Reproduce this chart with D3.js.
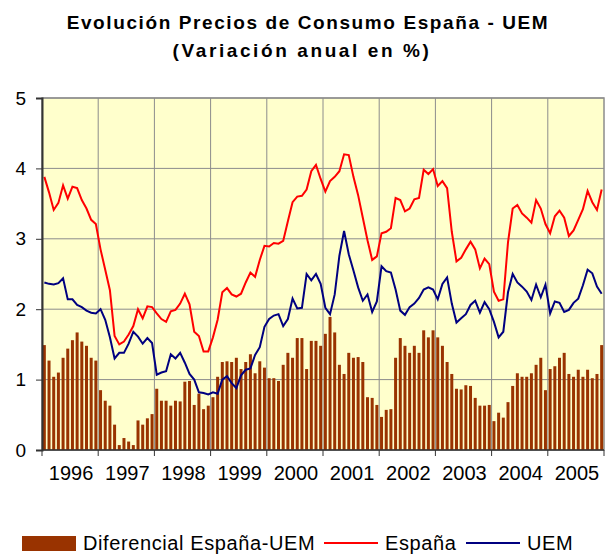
<!DOCTYPE html>
<html>
<head>
<meta charset="utf-8">
<script src="https://cdn.jsdelivr.net/npm/d3@7"></script>
<style>
  body { margin: 0; background: #fff; }
  text { font-family: "Liberation Sans", Arial, sans-serif; }
</style>
</head>
<body>
<div id="chart"></div>
<script>
// años del eje X
const years = [1996, 1997, 1998, 1999, 2000, 2001, 2002, 2003, 2004, 2005];

// Diferencial España-UEM (barras), mensual ene-1996 .. dic-2005
const diferencial = [
  1.49, 1.27, 1.04, 1.10, 1.31, 1.44, 1.56, 1.67, 1.54, 1.48, 1.31, 1.27,
  0.85, 0.70, 0.63, 0.36, 0.07, 0.17, 0.12, 0.07, 0.42, 0.36, 0.45, 0.51,
  0.87, 0.70, 0.70, 0.63, 0.70, 0.69, 0.97, 0.98, 0.64, 0.80, 0.58, 0.63,
  0.75, 1.04, 1.25, 1.26, 1.25, 1.31, 1.15, 1.25, 1.36, 1.09, 1.26, 1.17,
  1.02, 1.02, 0.98, 1.21, 1.38, 1.31, 1.59, 1.59, 1.15, 1.55, 1.55, 1.48,
  1.65, 1.89, 1.67, 1.21, 1.08, 1.38, 1.31, 1.32, 1.25, 0.75, 0.74, 0.64,
  0.47, 0.57, 0.58, 1.31, 1.59, 1.48, 1.38, 1.48, 1.38, 1.70, 1.60, 1.70,
  1.60, 1.48, 1.25, 1.08, 0.87, 0.86, 0.92, 0.91, 0.74, 0.63, 0.63, 0.64,
  0.41, 0.53, 0.46, 0.68, 0.91, 1.09, 1.04, 1.04, 1.09, 1.21, 1.31, 0.85,
  1.15, 1.19, 1.31, 1.38, 1.08, 1.04, 1.14, 1.04, 1.14, 1.02, 1.08, 1.49
];

// España
const espana = [
  3.88, 3.66, 3.41, 3.51, 3.76, 3.57, 3.74, 3.72, 3.55, 3.43, 3.27, 3.21,
  2.85, 2.56, 2.27, 1.62, 1.50, 1.54, 1.64, 1.76, 2.00, 1.87, 2.04, 2.03,
  1.94, 1.86, 1.82, 1.97, 1.99, 2.08, 2.22, 2.07, 1.68, 1.62, 1.40, 1.40,
  1.60, 1.85, 2.24, 2.30, 2.21, 2.18, 2.22, 2.38, 2.52, 2.46, 2.70, 2.90,
  2.89, 2.94, 2.93, 2.97, 3.25, 3.52, 3.60, 3.61, 3.70, 3.96, 4.05, 3.85,
  3.67, 3.82, 3.88, 3.96, 4.20, 4.19, 3.88, 3.62, 3.30, 2.98, 2.70, 2.75,
  3.08, 3.10, 3.15, 3.58, 3.55, 3.39, 3.43, 3.56, 3.58, 3.98, 3.92, 3.99,
  3.75, 3.82, 3.72, 3.10, 2.68, 2.73, 2.85, 2.96, 2.85, 2.58, 2.72, 2.64,
  2.25, 2.12, 2.14, 2.95, 3.43, 3.48, 3.36, 3.30, 3.23, 3.55, 3.43, 3.21,
  3.08, 3.32, 3.40, 3.30, 3.04, 3.12, 3.27, 3.42, 3.68, 3.52, 3.41, 3.70
];

// UEM
const uem = [
  2.38, 2.36, 2.35, 2.37, 2.44, 2.14, 2.14, 2.06, 2.03, 1.98, 1.95, 1.94,
  2.00, 1.85, 1.60, 1.30, 1.38, 1.38, 1.51, 1.68, 1.61, 1.51, 1.59, 1.52,
  1.07, 1.10, 1.12, 1.36, 1.30, 1.38, 1.24, 1.08, 1.00, 0.82, 0.81, 0.79,
  0.82, 0.80, 1.00, 1.05, 0.95, 0.88, 1.06, 1.14, 1.16, 1.35, 1.46, 1.75,
  1.86, 1.91, 1.93, 1.76, 1.86, 2.15, 2.01, 2.02, 2.50, 2.41, 2.50, 2.36,
  2.02, 1.93, 2.21, 2.76, 3.11, 2.78, 2.55, 2.31, 2.12, 2.21, 1.96, 2.11,
  2.61, 2.54, 2.52, 2.28, 1.98, 1.92, 2.03, 2.08, 2.16, 2.28, 2.31, 2.28,
  2.14, 2.36, 2.45, 2.08, 1.81, 1.87, 1.93, 2.06, 2.12, 1.95, 2.10, 2.00,
  1.82, 1.60, 1.68, 2.24, 2.50, 2.38, 2.32, 2.25, 2.13, 2.35, 2.17, 2.35,
  1.94, 2.11, 2.09, 1.96, 1.99, 2.09, 2.15, 2.34, 2.56, 2.51, 2.32, 2.22
];

const yTicks = [0, 1, 2, 3, 4, 5];

const W = 611, H = 559;
const margin = {top: 98, right: 7, bottom: 109, left: 42};
const width = W - margin.left - margin.right;
const height = H - margin.top - margin.bottom;

const months = d3.range(diferencial.length);

const svg = d3.select("#chart").append("svg")
    .attr("width", W)
    .attr("height", H);

// título
svg.append("text")
    .attr("x", 308).attr("y", 29)
    .attr("text-anchor", "middle")
    .attr("font-size", 19).attr("font-weight", "bold")
    .attr("letter-spacing", 1.6)
    .text("Evolución Precios de Consumo España - UEM");
svg.append("text")
    .attr("x", 302).attr("y", 57)
    .attr("text-anchor", "middle")
    .attr("font-size", 19).attr("font-weight", "bold")
    .attr("letter-spacing", 2.6)
    .text("(Variación anual en %)");

const g = svg.append("g")
    .attr("transform", "translate(" + margin.left + "," + margin.top + ")");

// escalas
const x = d3.scaleBand()
    .domain(months)
    .range([0, width])
    .paddingInner(0.36)
    .paddingOuter(0.18);

const xYear = d3.scaleBand()
    .domain(years)
    .range([0, width]);

const y = d3.scaleLinear()
    .domain([0, 5])
    .range([height, 0]);

// fondo
g.append("rect")
    .attr("width", width).attr("height", height)
    .attr("fill", "#FFFFCC");

// rejilla horizontal
g.append("g")
    .selectAll("line")
    .data(yTicks.slice(1))
    .enter().append("line")
    .attr("x1", 0).attr("x2", width)
    .attr("y1", d => y(d)).attr("y2", d => y(d))
    .attr("stroke", "#8c8c8c").attr("stroke-width", 1);

// rejilla vertical (límites de año)
g.append("g")
    .selectAll("line")
    .data(years.slice(1))
    .enter().append("line")
    .attr("x1", d => xYear(d)).attr("x2", d => xYear(d))
    .attr("y1", 0).attr("y2", height)
    .attr("stroke", "#8c8c8c").attr("stroke-width", 1);

// borde del área de trazado
g.append("rect")
    .attr("width", width).attr("height", height)
    .attr("fill", "none")
    .attr("stroke", "#8c8c8c").attr("stroke-width", 1.5);

// barras
g.selectAll(".bar")
    .data(diferencial)
    .enter().append("rect")
    .attr("class", "bar")
    .attr("x", (d, i) => x(i))
    .attr("width", x.bandwidth())
    .attr("y", d => y(d))
    .attr("height", d => height - y(d))
    .attr("fill", "#993300");

// líneas
const line = d3.line()
    .x((d, i) => x(i) + x.bandwidth() / 2)
    .y(d => y(d));

g.append("path")
    .datum(espana)
    .attr("d", line)
    .attr("fill", "none")
    .attr("stroke", "#FF0000")
    .attr("stroke-width", 2);

g.append("path")
    .datum(uem)
    .attr("d", line)
    .attr("fill", "none")
    .attr("stroke", "#000080")
    .attr("stroke-width", 2);

// eje Y
const yAxis = g.append("g")
    .attr("class", "y-axis")
    .call(d3.axisLeft(y).tickValues(yTicks).tickFormat(d3.format("d"))
        .tickSize(6).tickPadding(10));
yAxis.select(".domain").attr("stroke", "#333").attr("stroke-width", 2);
yAxis.selectAll(".tick line").attr("stroke", "#333");
yAxis.selectAll("text")
    .attr("font-size", 19)
    .attr("fill", "#000")
    .style("font-family", "'Liberation Sans', Arial, sans-serif");

// eje X: marcas en los límites de año y etiquetas centradas
const xAxis = g.append("g")
    .attr("class", "x-axis")
    .attr("transform", "translate(0," + height + ")");
xAxis.append("line")
    .attr("x1", 0).attr("x2", width)
    .attr("stroke", "#333").attr("stroke-width", 1.5);
xAxis.selectAll(".tk")
    .data(years.concat([years[years.length - 1] + 1]))
    .enter().append("line")
    .attr("class", "tk")
    .attr("x1", (d, i) => i * xYear.step())
    .attr("x2", (d, i) => i * xYear.step())
    .attr("y1", 0).attr("y2", 6)
    .attr("stroke", "#333");
xAxis.selectAll(".lbl")
    .data(years)
    .enter().append("text")
    .attr("class", "lbl")
    .attr("x", d => xYear(d) + xYear.bandwidth() / 2 + 1)
    .attr("y", 30)
    .attr("text-anchor", "middle")
    .attr("font-size", 20)
    .text(d => d);

// leyenda
const legend = svg.append("g").attr("transform", "translate(0,543)");
const items = [
  {label: "Diferencial España-UEM", color: "#993300", type: "rect", x: 22},
  {label: "España", color: "#FF0000", type: "line", x: 324},
  {label: "UEM", color: "#000080", type: "line", x: 466}
];
items.forEach(function (it) {
  if (it.type === "rect") {
    legend.append("rect")
        .attr("x", it.x).attr("y", -7)
        .attr("width", 54).attr("height", 15)
        .attr("fill", it.color);
  } else {
    legend.append("line")
        .attr("x1", it.x).attr("x2", it.x + 54)
        .attr("y1", 0).attr("y2", 0)
        .attr("stroke", it.color).attr("stroke-width", 2);
  }
  legend.append("text")
      .attr("x", it.x + 61).attr("y", 7)
      .attr("font-size", 20)
      .attr("letter-spacing", 0.6)
      .text(it.label);
});
</script>
</body>
</html>
